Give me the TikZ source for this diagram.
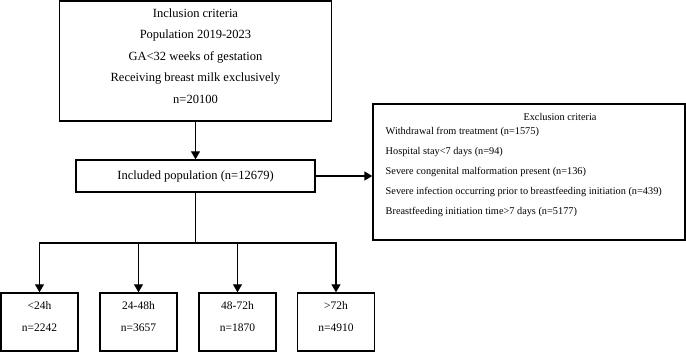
\documentclass[tikz,border=0pt]{standalone}
\usepackage{fontspec}
\setmainfont{Liberation Serif}
\usetikzlibrary{arrows.meta}

\begin{document}
\begin{tikzpicture}[x=1pt,y=-1pt,>={Triangle[length=8pt,width=9pt]},line width=1.4pt,
  box/.style={draw,line width=1.4pt,inner sep=0pt},
  big/.style={font=\fontsize{12.5}{21.5}\selectfont},
  small/.style={font=\fontsize{10.3}{20}\selectfont}]
  \useasboundingbox (0,0) rectangle (686,352);
  % inclusion box
  \node[box,minimum width=272pt,minimum height=120pt] (incl) at (195.5,61) {};
  \node[big,align=center] (incltext) at (195.5,56)
    {Inclusion criteria\\Population 2019-2023\\GA<32 weeks of gestation\\Receiving breast milk exclusively\\n=20100};
  \node[box,big,minimum width=239pt,minimum height=32pt] (pop) at (195.5,176) {Included population (n=12679)};
  \draw[->] (incl) -- (pop);
  % exclusion box
  \node[box,minimum width=312pt,minimum height=136pt] (excl) at (529,172) {};
  \node[small] (excltitle) at (560,117) {Exclusion criteria};
  \foreach \i/\y/\lab in {1/132/{Withdrawal from treatment (n=1575)},
                          2/152/{Hospital stay<7 days (n=94)},
                          3/172/{Severe congenital malformation present (n=136)},
                          4/192/{Severe infection occurring prior to breastfeeding initiation (n=439)},
                          5/212/{Breastfeeding initiation time>7 days (n=5177)}} {
    \node[small,anchor=west,inner sep=0pt] (ex\i) at (385,\y) {\lab};
  }
  \draw[->] (pop.east) -- (pop.east -| excl.west);
  % groups by initiation time
  \coordinate (split) at (195.5,243);
  \draw (pop) -- (split);
  \foreach \i/\x/\num in {1/39.5/2242,2/138.5/3657,3/237.5/1870,4/336/4910} {
    \node[box,minimum width=77pt,minimum height=58pt] (g\i) at (\x,322) {};
    \node[font=\fontsize{11.5}{14}\selectfont] (g\i n) at (\x,328) {n=\num};
    \draw[->] (split) -| (g\i);
  }
  \node[font=\fontsize{11.5}{14}\selectfont] (g1time) at (g1 |- 0,306) {<24h};
  \node[font=\fontsize{11.5}{14}\selectfont] (g2time) at (g2 |- 0,306) {24-48h};
  \node[font=\fontsize{11.5}{14}\selectfont] (g3time) at (g3 |- 0,306) {48-72h};
  \node[font=\fontsize{11.5}{14}\selectfont] (g4time) at (g4 |- 0,306) {>72h};
\end{tikzpicture}
\end{document}
